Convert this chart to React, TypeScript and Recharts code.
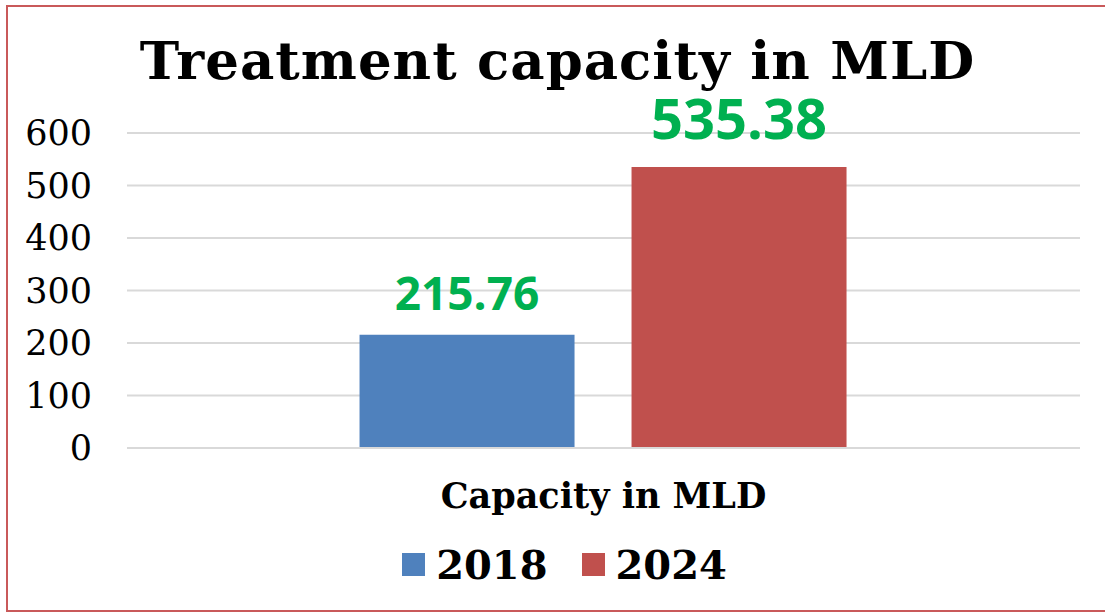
import { BarChart, Bar, XAxis, YAxis, CartesianGrid, Legend, LabelList } from 'recharts';

const categories = ['Capacity in MLD'];
const series2018 = [215.76];
const series2024 = [535.38];
const yTicks = [0, 100, 200, 300, 400, 500, 600];

const data = categories.map((name, i) => ({
    name,
    y2018: series2018[i],
    y2024: series2024[i],
}));

const SERIF = '"DejaVu Serif", serif';

const renderLegend = () => (
    <div style={{ display: 'flex', justifyContent: 'center', alignItems: 'center', gap: 34, paddingLeft: 24, height: 48 }}>
        {[
            { label: '2018', color: '#4F81BD' },
            { label: '2024', color: '#C0504D' },
        ].map(item => (
            <div key={item.label} style={{ display: 'flex', alignItems: 'center' }}>
                <span style={{ width: 23, height: 23, background: item.color, display: 'inline-block', marginRight: 11 }} />
                <span style={{ fontFamily: SERIF, fontWeight: 700, fontSize: 40, color: '#000' }}>{item.label}</span>
            </div>
        ))}
    </div>
);

export default function App() {
    return (
        <div style={{ position: 'absolute', left: 0, top: 0, width: 1105, height: 615, background: '#fff', overflow: 'hidden' }}>
            <div style={{
                position: 'absolute', left: 6, top: 5, width: 1120, height: 607,
                border: '2px solid #C9595A', boxSizing: 'border-box',
            }} />
            <div style={{
                position: 'absolute', left: 0, top: 29, width: 1115, textAlign: 'center',
                fontFamily: SERIF, fontWeight: 700, fontSize: 53, color: '#000', letterSpacing: 1,
            }}>
                Treatment capacity in MLD
            </div>
            <div style={{ position: 'absolute', left: 0, top: 0 }}>
                <BarChart
                    width={1105}
                    height={615}
                    data={data}
                    margin={{ top: 133, right: 25, left: 0, bottom: 20 }}
                    barCategoryGap="24.4%"
                    barGap={57}
                >
                    <CartesianGrid vertical={false} stroke="#d9d9d9" strokeWidth={2} />
                    <XAxis
                        dataKey="name"
                        height={99}
                        axisLine={{ stroke: '#d9d9d9', strokeWidth: 2 }}
                        tickLine={false}
                        tickMargin={29}
                        tick={{ fontFamily: SERIF, fontWeight: 700, fontSize: 35, fill: '#000' }}
                    />
                    <YAxis
                        width={127}
                        domain={[0, 600]}
                        ticks={yTicks}
                        interval={0}
                        axisLine={false}
                        tickLine={false}
                        tickMargin={29}
                        tick={{ fontFamily: SERIF, fontSize: 35, fill: '#000' }}
                    />
                    <Legend
                        content={renderLegend}
                        wrapperStyle={{ top: 540, left: 0, width: 1105 }}
                    />
                    <Bar dataKey="y2018" name="2018" fill="#4F81BD" isAnimationActive={false}>
                        <LabelList
                            dataKey="y2018"
                            position="top"
                            offset={25}
                            style={{ fontFamily: '"Open Sans", sans-serif', fontWeight: 700, fontSize: 46, fill: '#00B050' }}
                        />
                    </Bar>
                    <Bar dataKey="y2024" name="2024" fill="#C0504D" isAnimationActive={false}>
                        <LabelList
                            dataKey="y2024"
                            position="top"
                            offset={28}
                            style={{ fontFamily: '"Open Sans", sans-serif', fontWeight: 700, fontSize: 56, fill: '#00B050' }}
                        />
                    </Bar>
                </BarChart>
            </div>
        </div>
    );
}
